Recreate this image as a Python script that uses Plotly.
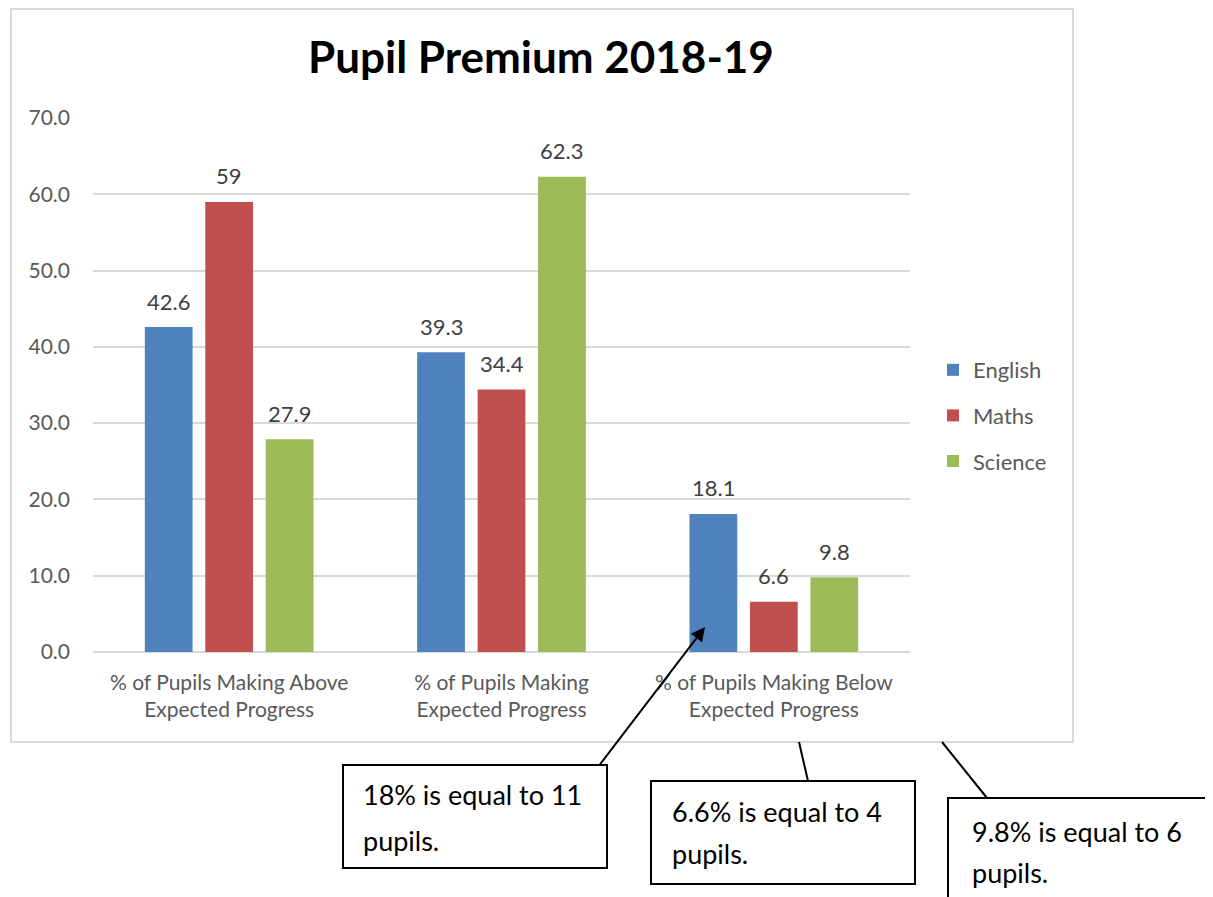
import plotly.graph_objects as go

categories = ["% of Pupils Making Above<br>Expected Progress",
              "% of Pupils Making<br>Expected Progress",
              "% of Pupils Making Below<br>Expected Progress"]
english = [42.6, 39.3, 18.1]
maths = [59, 34.4, 6.6]
science = [27.9, 62.3, 9.8]
series_names = ["English", "Maths", "Science"]
series_colors = ["#4f81bd", "#c0504d", "#9bbb59"]
notes = ["18% is equal to 11<br>pupils.",
         "6.6% is equal to 4<br>pupils.",
         "9.8% is equal to 6<br>pupils."]

# screen pixel geometry (page has an 8px body margin)
OFF = 8
W, H = 1213 - OFF, 897 - OFF
L, R, T, B = 93, 910, 118, 652
FONT = "Lato, Open Sans, sans-serif"
BARGAP = 0.334


def px(x):
    return (x - L) / (R - L)


def py(y):
    return (B - y) / (B - T)


fig = go.Figure()
all_vals = [english, maths, science]
for name, vals, col in zip(series_names, all_vals, series_colors):
    fig.add_trace(go.Bar(
        name=name, x=categories, y=vals,
        marker_color=col, marker_line_width=0,
        legendgroup=name, hoverinfo="x+y+name",
    ))

# data labels, placed over each bar of the group
pitch = (1 - BARGAP) * (R - L) / len(categories) / len(series_names)
annotations = []
for i, vals in enumerate(all_vals):
    for cat, v in zip(categories, vals):
        annotations.append(dict(
            x=cat, y=v, xref="x", yref="y", text=f"{v:g}", showarrow=False,
            xanchor="center", yanchor="middle", yshift=26,
            xshift=(i - 1) * pitch,
            font=dict(size=22, color="#404040", family=FONT)))

shapes = [
    dict(type="rect", xref="paper", yref="paper",
         x0=px(11), x1=px(1073), y0=py(9), y1=py(742),
         line=dict(color="#d9d9d9", width=2), layer="below"),
    # callout boxes
    dict(type="rect", xref="paper", yref="paper",
         x0=px(343), x1=px(607), y0=py(765), y1=py(868),
         line=dict(color="black", width=2), fillcolor="white"),
    dict(type="rect", xref="paper", yref="paper",
         x0=px(651), x1=px(915), y0=py(781), y1=py(884),
         line=dict(color="black", width=2), fillcolor="white"),
    dict(type="rect", xref="paper", yref="paper",
         x0=px(948), x1=px(1230), y0=py(798), y1=py(910),
         line=dict(color="black", width=2), fillcolor="white"),
    # connector lines
    dict(type="line", xref="paper", yref="paper",
         x0=px(799), x1=px(808), y0=py(742), y1=py(781),
         line=dict(color="black", width=2)),
    dict(type="line", xref="paper", yref="paper",
         x0=px(942), x1=px(987), y0=py(742), y1=py(798),
         line=dict(color="black", width=2)),
]

annotations += [
    dict(text="<b>Pupil Premium 2018-19</b>", xref="paper", yref="paper",
         x=px(541), y=py(56), xanchor="center", yanchor="middle",
         showarrow=False, font=dict(size=44, color="black", family=FONT)),
    dict(text="", xref="paper", yref="paper", x=px(705), y=py(627),
         ax=-107, ay=140, showarrow=True, arrowhead=2, arrowsize=1.4,
         arrowwidth=2, arrowcolor="black"),
]
note_pos = [(361, 795, 840), (670, 811, 853), (970, 831, 872)]
for (bx, y1, y2), note in zip(note_pos, notes):
    first, second = note.split("<br>")
    for line, yy in ((first, y1), (second, y2)):
        annotations.append(dict(
            text=line, xref="paper", yref="paper", x=px(bx), y=py(yy),
            xanchor="left", yanchor="middle", align="left", showarrow=False,
            font=dict(size=27, color="black", family=FONT)))

fig.update_layout(
    width=W, height=H,
    margin=dict(l=L - OFF, r=W - (R - OFF), t=T - OFF, b=H - (B - OFF)),
    paper_bgcolor="white", plot_bgcolor="white",
    barmode="group", bargap=BARGAP, bargroupgap=0.21,
    font=dict(family=FONT, size=21, color="#595959"),
    showlegend=True,
    legend=dict(x=px(933), y=py(349), xanchor="left", yanchor="top",
                traceorder="grouped", tracegroupgap=14,
                font=dict(size=22, color="#595959"),
                bgcolor="rgba(0,0,0,0)"),
    yaxis=dict(range=[0, 70], dtick=10, tickformat=".1f",
               showgrid=True, gridcolor="#d9d9d9", gridwidth=1.5,
               zeroline=True, zerolinecolor="#d9d9d9", zerolinewidth=1.5,
               showline=False, ticks="", ticklabelstandoff=22,
               tickfont=dict(size=21, color="#595959")),
    xaxis=dict(showline=False, ticks="", ticklabelstandoff=16,
               tickfont=dict(size=21, color="#595959")),
    shapes=shapes,
    annotations=annotations,
)

fig.write_html("out.html")
